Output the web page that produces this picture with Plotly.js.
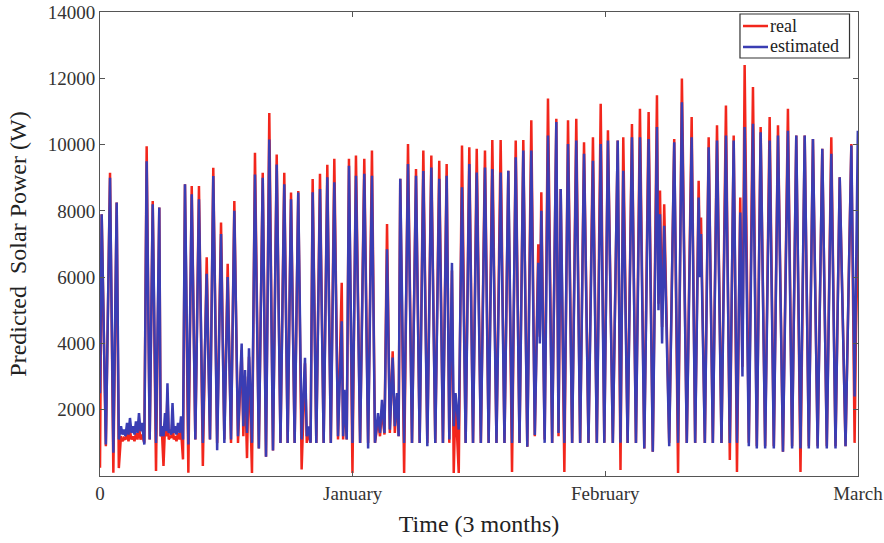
<!DOCTYPE html>
<html>
<head>
<meta charset="utf-8">
<script src="https://cdn.plot.ly/plotly-3.0.1.min.js"></script>
<style>html,body{margin:0;padding:0;background:#fff;}#chart{width:884px;height:543px;}</style>
</head>
<body>
<div id="chart"></div>
<script>
// Time (days from start) of each daily maximum / noisy local maximum
const peakDay = [0.20,1.19,1.98, 2.49,2.85,3.21,3.56,3.92,4.27,4.63,4.99, 5.54,6.26,7.04,
  7.36,7.72,8.01,8.31,8.61,8.90,9.26,9.62, 10.09,10.89,11.75,12.67,13.45,14.37,15.16,15.95,
  16.82,17.22,17.69, 18.40,19.32,20.10,20.98,21.88,22.68,23.54, 24.34,24.76,
  25.25,26.12,26.99,27.82,28.70,29.03,29.56, 30.39,31.38,32.29, 33.01,33.48,34.08,34.75,35.26,
  35.65,36.57,37.52,38.39,39.34,40.28,41.16, 41.79,42.21, 42.98,43.85,44.73,
  45.71,46.58,47.57,48.48,49.36,50.26,51.21,52.04,52.40,53.19,54.18,54.70,55.57,56.55,57.47,58.53,59.45,60.31,
  61.47,62.13,63.16,64.11,65.14,66.13,66.49,66.99,68.18,69.09,70.25,71.08,71.36,72.27,73.26,74.32,75.24,
  76.02,76.54,77.53,78.44,79.51,80.50,81.68,82.67,83.67,84.65,85.76,86.83,87.83,89.21,89.98];

// Peak values (W)
const peakReal = [7900,9150,8250, 1200,1150,1300,1350,1200,1300,1500,1250, 9950,8300,8100,
  1300,1500,2500,1200,1700,1200,1300,1400, 8800,8750,8750,6600,9300,7650,6400,8300,
  3800,3000,3600, 9750,9150,10950,9700,9150,8550,8600, 3400,1300,
  8960,9120,9390,9570,5830,2400,9570, 9670,9570,9820, 1700,2000,7600,3760,2400,
  8970,10020,9260,9820,9670,9515,9415, 6200,2300, 9970,9920,9870,
  9818,10140,10140,9210,10120,10140,10730,6990,8560,11390,10780,8660,10730,10780,10070,10220,11230,10430,
  10120,10220,10620,11080,10980,11490,8610,8200,10170,11990,10830,8910,7800,10220,10580,11180,10270,
  8400,12400,11740,10530,10830,10580,11080,10270,10270,10170,9870,10220,9010,10020,8800];

const peakEst = [7900,9000,8250, 1500,1400,1600,1750,1500,1650,1900,1600, 9500,8200,8100,
  1500,1900,2800,1400,2200,1500,1600,1800, 8800,8500,8350,6100,9050,7300,6000,8000,
  4000,3200,3850, 9100,9000,10150,9400,8800,8350,8550, 3570,1500,
  8560,8660,9010,8860,4670,2600,9360, 9060,9120,9060, 1900,2300,6840,3575,2500,
  8970,9415,9060,9200,9310,8970,9060, 6430,2500, 8710,9415,9160,
  9310,9260,9160,9210,9615,9818,9818,6430,8000,10270,10680,8660,10020,10120,9720,9515,10020,10120,
  10120,9210,10220,10220,10170,10530,7900,7550,10070,11280,10220,8400,7300,9920,10120,10270,10120,
  7950,10530,10630,10370,10120,10270,10420,10270,10270,10170,9870,9720,9010,9970,10420];

// Minimum values between consecutive peaks (first = before first peak, last = after last peak)
const troughReal = [250, 900,100,240, 1050,1100,1050,1100,1050,1100,1100,1000, 1100,150,1200,
  300,1200,1100,1150,1100,1050,1100,500, 100,1100,300,1100,1000,1100,1000,1000,
  1200,540,90, 830,580,770,1000,1000,1000,200, 1000,1000,
  1000,1000,1000,1100,1100,1100,90, 1000,1000,1000, 1200,1250,1300,1300,1200,
  90,1000,1000,1000,1000,1000,1000, 90,90, 1000,1000,1000,
  1000,1000,1000,120,1000,880,1200,4200,1100,1000,1200,120,1000,1000,1000,1000,1000,1000,
  180,1000,1000,830,730,5200,4500,1000,90,1000,1000,6500,1000,1000,1000,480,120,
  3300,1000,900,900,900,730,900,120,900,900,900,900,900,1000,1000];

const troughEst = [2500, 950,700,1100, 1250,1200,1250,1300,1250,1300,1350,950, 1100,1000,1200,
  1200,1350,1300,1250,1300,1250,1300,1100, 950,1100,1000,1100,780,1000,1100,1200,
  1500,1300,1000, 830,580,770,1000,1000,1000,1100, 1200,1000,
  1000,1000,1000,1200,1200,1100,1000, 1000,830,1000, 1300,1300,1400,1500,1200,
  1000,1000,1000,900,1000,1000,1100, 1500,1400, 1000,1000,1000,
  1000,1000,1000,1000,1000,880,1240,4000,1000,1000,1300,1000,1000,1000,1000,1000,1000,1000,
  1000,1000,1000,830,730,5000,4000,900,1000,1000,1000,6000,1000,1000,1000,1000,1000,
  3000,900,830,830,830,730,830,830,830,830,830,830,900,2400,2500];

const seriesNames = ['real', 'estimated'];
const xTickVals = [0, 30, 60, 90];
const xTickText = ['0', 'January', 'February', 'March'];
const yTickVals = [2000, 4000, 6000, 8000, 10000, 12000, 14000];
const yTickText = ['2000', '4000', '6000', '8000', '10000', '12000', '14000'];

function buildSeries(peaks, troughs) {
  const xs = [], ys = [];
  const n = peakDay.length;
  for (let i = 0; i < n; i++) {
    const tPrev = i === 0 ? Math.max(0, peakDay[0] - 0.2) : (peakDay[i - 1] + peakDay[i]) / 2;
    xs.push(tPrev); ys.push(troughs[i]);
    xs.push(peakDay[i]); ys.push(peaks[i]);
  }
  xs.push(peakDay[n - 1] + 0.3); ys.push(troughs[n]);
  return {xs, ys};
}

const r = buildSeries(peakReal, troughReal);
const e = buildSeries(peakEst, troughEst);

const font = 'Liberation Serif, Times New Roman, serif';
const colors = ['#f2261c', '#3a3db3'];

const traces = [
  {x: r.xs, y: r.ys, type: 'scatter', mode: 'lines', name: seriesNames[0],
   line: {color: colors[0], width: 2.5}},
  {x: e.xs, y: e.ys, type: 'scatter', mode: 'lines', name: seriesNames[1],
   line: {color: colors[1], width: 2.5}}
];

const axisCommon = {
  showline: true, linecolor: '#555', linewidth: 1, mirror: 'ticks',
  ticks: 'inside', ticklen: 5, tickcolor: '#555', showgrid: false, zeroline: false,
  tickfont: {family: font, size: 19, color: '#333'}
};

// custom legend box (compact boxed legend of the original)
const shapes = [
  {type: 'rect', xref: 'paper', yref: 'paper', x0: 0.8443, x1: 0.9888, y0: 0.9009, y1: 0.9957,
   fillcolor: '#fff', line: {color: '#333', width: 1.2}, layer: 'above'},
  {type: 'line', xref: 'paper', yref: 'paper', x0: 0.8483, x1: 0.8813, y0: 0.9698, y1: 0.9698,
   line: {color: colors[0], width: 2.5}, layer: 'above'},
  {type: 'line', xref: 'paper', yref: 'paper', x0: 0.8483, x1: 0.8813, y0: 0.9246, y1: 0.9246,
   line: {color: colors[1], width: 2.5}, layer: 'above'}
];
const annotations = [
  {xref: 'paper', yref: 'paper', x: 0.8826, y: 0.9709, xanchor: 'left', yanchor: 'middle',
   height: 18, valign: 'middle', borderpad: 0,
   text: seriesNames[0], showarrow: false, font: {family: font, size: 18, color: '#222'}},
  {xref: 'paper', yref: 'paper', x: 0.8826, y: 0.9257, xanchor: 'left', yanchor: 'middle',
   height: 18, valign: 'middle', borderpad: 0,
   text: seriesNames[1], showarrow: false, font: {family: font, size: 18, color: '#222'}}
];

const layout = {
  width: 884, height: 543,
  margin: {l: 100, r: 26, t: 12, b: 67},
  paper_bgcolor: '#fff', plot_bgcolor: '#fff',
  showlegend: false,
  shapes: shapes,
  annotations: annotations,
  xaxis: Object.assign({}, axisCommon, {
    range: [0, 90], tickmode: 'array', tickvals: xTickVals, ticktext: xTickText,
    title: {text: 'Time (3 months)', font: {family: font, size: 24, color: '#222'}, standoff: 12}
  }),
  yaxis: Object.assign({}, axisCommon, {
    range: [0, 14000], tickmode: 'array', tickvals: yTickVals, ticktext: yTickText,
    title: {text: 'Predicted\u00a0 Solar Power (W)', font: {family: font, size: 24, color: '#222'}, standoff: 14}
  })
};

Plotly.newPlot('chart', traces, layout, {displayModeBar: false, staticPlot: true});
</script>
</body>
</html>
